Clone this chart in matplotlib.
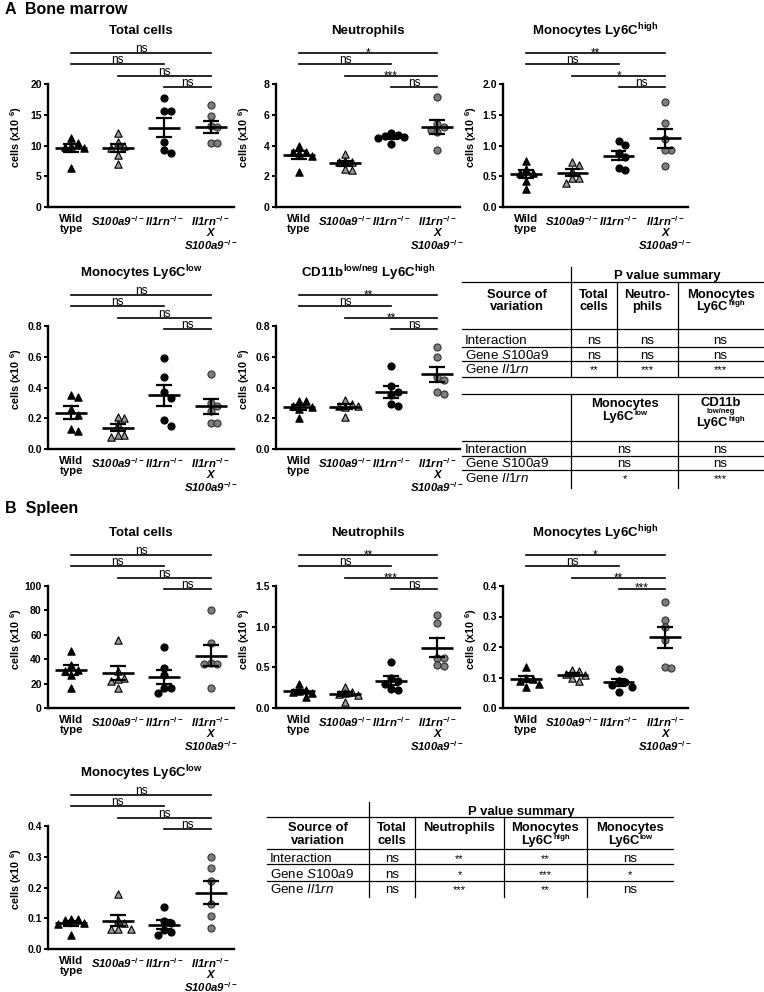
import numpy as np
import matplotlib
matplotlib.use('Agg')
import matplotlib.pyplot as plt

plt.rcParams['font.family'] = ['Liberation Sans', 'DejaVu Sans']
plt.rcParams['mathtext.fontset'] = 'custom'
plt.rcParams['mathtext.rm'] = 'Liberation Sans'
plt.rcParams['mathtext.it'] = 'Liberation Sans:italic'
plt.rcParams['mathtext.bf'] = 'Liberation Sans:bold'

# groups: Wild type, S100a9-/-, Il1rn-/-, Il1rn-/- x S100a9-/-  (cells x10^6)
xlabels = ['Wild\ntype', 'S100a9$^{\\mathbf{-/-}}$', 'Il1rn$^{\\mathbf{-/-}}$',
           'Il1rn$^{\\mathbf{-/-}}$\nX\nS100a9$^{\\mathbf{-/-}}$']

# --- A: bone marrow
bm_total = [[11.2, 10.4, 10.0, 9.8, 9.6, 6.4],
            [12.0, 10.6, 10.0, 9.6, 8.5, 7.0],
            [17.7, 15.6, 15.6, 10.6, 9.2, 8.7],
            [16.6, 14.8, 13.2, 13.0, 10.4, 10.4]]
bm_total_sig = ['ns', 'ns', 'ns', 'ns']
bm_total_ticks = [0, 5, 10, 15, 20]

bm_neut = [[4.0, 3.6, 3.6, 3.5, 3.3, 2.3],
           [3.45, 3.0, 2.9, 2.9, 2.45, 2.4],
           [4.8, 4.7, 4.6, 4.55, 4.5, 4.1],
           [7.15, 5.4, 5.2, 5.0, 4.9, 3.7]]
bm_neut_sig = ['*', 'ns', '***', 'ns']
bm_neut_ticks = [0, 2, 4, 6, 8]

bm_mhigh = [[0.74, 0.62, 0.56, 0.55, 0.42, 0.29],
            [0.73, 0.69, 0.58, 0.47, 0.47, 0.39],
            [1.07, 1.01, 0.88, 0.82, 0.63, 0.60],
            [1.70, 1.36, 1.11, 0.93, 0.93, 0.67]]
bm_mhigh_sig = ['**', 'ns', '*', 'ns']
bm_mhigh_ticks = [0.0, 0.5, 1.0, 1.5, 2.0]

bm_mlow = [[0.35, 0.34, 0.26, 0.22, 0.13, 0.12],
           [0.21, 0.20, 0.16, 0.09, 0.09, 0.08],
           [0.59, 0.47, 0.37, 0.33, 0.19, 0.15],
           [0.49, 0.30, 0.28, 0.25, 0.17, 0.17]]
bm_mlow_sig = ['ns', 'ns', 'ns', 'ns']
bm_mlow_ticks = [0.0, 0.2, 0.4, 0.6, 0.8]

bm_cd11b = [[0.31, 0.31, 0.28, 0.27, 0.26, 0.20],
            [0.32, 0.29, 0.28, 0.28, 0.27, 0.21],
            [0.54, 0.41, 0.37, 0.35, 0.29, 0.28],
            [0.665, 0.60, 0.47, 0.45, 0.37, 0.36]]
bm_cd11b_sig = ['**', 'ns', '**', 'ns']
bm_cd11b_ticks = [0.0, 0.2, 0.4, 0.6, 0.8]

# --- B: spleen
sp_total = [[47, 35, 31, 30, 27, 16],
            [56, 30, 25, 24, 22, 16],
            [50, 33, 27, 16, 16, 12],
            [80, 53, 37, 36, 36, 16]]
sp_total_sig = ['ns', 'ns', 'ns', 'ns']
sp_total_ticks = [0, 20, 40, 60, 80, 100]

sp_neut = [[0.29, 0.22, 0.21, 0.20, 0.18, 0.14],
           [0.26, 0.20, 0.18, 0.17, 0.16, 0.07],
           [0.57, 0.37, 0.33, 0.30, 0.23, 0.22],
           [1.14, 1.04, 0.62, 0.61, 0.53, 0.52]]
sp_neut_sig = ['**', 'ns', '***', 'ns']
sp_neut_ticks = [0.0, 0.5, 1.0, 1.5]

sp_mhigh = [[0.135, 0.10, 0.095, 0.09, 0.08, 0.07],
            [0.125, 0.12, 0.11, 0.108, 0.10, 0.09],
            [0.128, 0.09, 0.085, 0.075, 0.07, 0.054],
            [0.346, 0.289, 0.265, 0.222, 0.135, 0.13]]
sp_mhigh_sig = ['*', 'ns', '**', '***']
sp_mhigh_ticks = [0.0, 0.1, 0.2, 0.3, 0.4]

sp_mlow = [[0.098, 0.097, 0.095, 0.085, 0.08, 0.046],
           [0.18, 0.095, 0.085, 0.065, 0.065, 0.065],
           [0.138, 0.09, 0.085, 0.063, 0.055, 0.046],
           [0.298, 0.262, 0.22, 0.147, 0.106, 0.068]]
sp_mlow_sig = ['ns', 'ns', 'ns', 'ns']
sp_mlow_ticks = [0.0, 0.1, 0.2, 0.3, 0.4]

hi = 'Ly6C$^{\\mathbf{high}}$'
lo = 'Ly6C$^{\\mathbf{low}}$'
panels = [
    (bm_total, bm_total_sig, 'Total cells', bm_total_ticks, 0, 0),
    (bm_neut, bm_neut_sig, 'Neutrophils', bm_neut_ticks, 1, 0),
    (bm_mhigh, bm_mhigh_sig, 'Monocytes ' + hi, bm_mhigh_ticks, 2, 0),
    (bm_mlow, bm_mlow_sig, 'Monocytes ' + lo, bm_mlow_ticks, 0, 1),
    (bm_cd11b, bm_cd11b_sig, 'CD11b$^{\\mathbf{low/neg}}$ ' + hi, bm_cd11b_ticks, 1, 1),
    (sp_total, sp_total_sig, 'Total cells', sp_total_ticks, 0, 2),
    (sp_neut, sp_neut_sig, 'Neutrophils', sp_neut_ticks, 1, 2),
    (sp_mhigh, sp_mhigh_sig, 'Monocytes ' + hi, sp_mhigh_ticks, 2, 2),
    (sp_mlow, sp_mlow_sig, 'Monocytes ' + lo, sp_mlow_ticks, 0, 3),
]

# p value tables; a header cell line may be (base, superscript)
tabA1_head = [['Source of', 'variation'], ['Total', 'cells'], ['Neutro-', 'phils'],
              ['Monocytes', ('Ly6C', 'high')]]
tabA1_rows = ['Interaction', 'Gene $\\mathit{S100a9}$', 'Gene $\\mathit{Il1rn}$']
tabA1_vals = [['ns', 'ns', 'ns'], ['ns', 'ns', 'ns'], ['**', '***', '***']]

tabA2_head = [[], ['Monocytes', ('Ly6C', 'low')], ['CD11b', 'low/neg', ('Ly6C', 'high')]]
tabA2_rows = ['Interaction', 'Gene $\\mathit{S100a9}$', 'Gene $\\mathit{Il1rn}$']
tabA2_vals = [['ns', 'ns'], ['ns', 'ns'], ['*', '***']]

tabB_head = [['Source of', 'variation'], ['Total', 'cells'], ['Neutrophils'],
             ['Monocytes', ('Ly6C', 'high')], ['Monocytes', ('Ly6C', 'low')]]
tabB_rows = ['Interaction', 'Gene $\\mathit{S100a9}$', 'Gene $\\mathit{Il1rn}$']
tabB_vals = [['ns', '**', '**', 'ns'], ['ns', '*', '***', '*'], ['ns', '***', '**', 'ns']]

# ---------------------------------------------------------------
W, H = 764, 992
fig = plt.figure(figsize=(W / 100, H / 100), dpi=100)
ov = fig.add_axes([0, 0, 1, 1])
ov.set_xlim(0, W)
ov.set_ylim(H, 0)
ov.axis('off')
renderer = fig.canvas.get_renderer()

cols = [(48, 234), (276, 460), (503, 688)]
rows = [(84, 207), (326, 449), (586, 708), (826, 949)]

styles = [dict(marker='^', c='black', edgecolors='black', s=28),
          dict(marker='^', c='#9a9a9a', edgecolors='black', s=28),
          dict(marker='o', c='black', edgecolors='black', s=26),
          dict(marker='o', c='#7d7d7d', edgecolors='#333333', s=26)]

pairs = [(0, 3), (0, 2), (1, 3), (2, 3)]
levels = [1.252, 1.163, 1.065, 0.976]


def swarm(vals, ymax, h_px, sp_px, step=6.5, sep=6.5):
    order = np.argsort(vals)[::-1]
    placed = []
    offs = np.zeros(len(vals))
    for i in order:
        y = vals[i] / ymax * h_px
        for k in [0, 1, -1, 2, -2, 3, -3]:
            x = k * step
            if all((x - px) ** 2 + (y - py) ** 2 >= sep ** 2 for px, py in placed):
                break
        placed.append((x, y))
        offs[i] = x / sp_px
    return offs


for data, sig, title, ticks, c, r in panels:
    x0, x1 = cols[c]
    yt, yb = rows[r]
    ax = fig.add_axes([x0 / W, 1 - yb / H, (x1 - x0) / W, (yb - yt) / H])
    ymax = ticks[-1]
    ax.set_xlim(-0.5, 3.5)
    ax.set_ylim(0, ymax)
    sp_px = (x1 - x0) / 4.0
    for g, v in enumerate(data):
        v = np.asarray(v, dtype=float)
        xs = g + swarm(v, ymax, yb - yt, sp_px)
        ax.scatter(xs, v, linewidths=0.8, zorder=3, clip_on=False, **styles[g])
        m = v.mean()
        se = v.std(ddof=1) / np.sqrt(len(v))
        ax.plot([g - 0.34, g + 0.34], [m, m], color='black', lw=1.9, zorder=4,
                solid_capstyle='butt')
        ax.plot([g, g], [m - se, m + se], color='black', lw=1.6, zorder=4)
        for yy in (m - se, m + se):
            ax.plot([g - 0.17, g + 0.17], [yy, yy], color='black', lw=1.6, zorder=4,
                    solid_capstyle='butt')
    trans = ax.get_xaxis_transform()
    for (a, b), lev, s in zip(pairs, levels, sig):
        ax.plot([a, b], [lev, lev], transform=trans, color='black', lw=1.2, clip_on=False)
        dy = -3 if '*' in s else 1
        ax.annotate(s, xy=((a + b) / 2, lev), xycoords=trans, xytext=(0, dy),
                    textcoords='offset pixels', ha='center', va='baseline', fontsize=8.5)
    for sname in ['top', 'right']:
        ax.spines[sname].set_visible(False)
    for sname in ['left', 'bottom']:
        ax.spines[sname].set_linewidth(1.7)
    ax.set_yticks(ticks)
    if all(float(t).is_integer() for t in ticks) and ticks[-1] > 2:
        ax.set_yticklabels(['%d' % t for t in ticks])
    else:
        ax.set_yticklabels(['%.1f' % t for t in ticks])
    ax.tick_params(axis='y', length=3, width=1.4, pad=1.5, labelsize=7.5)
    for lab in ax.get_yticklabels():
        lab.set_fontweight('bold')
    ax.set_xticks([0, 1, 2, 3])
    ax.set_xticklabels(xlabels, fontsize=8.2, fontweight='bold', linespacing=1.0)
    ax.tick_params(axis='x', length=0, pad=5)
    for k, lab in enumerate(ax.get_xticklabels()):
        if k > 0:
            lab.set_fontstyle('italic')
    ov.text((x0 + x1) / 2, yt - 53, title, ha='center', va='center',
            fontsize=9.5, fontweight='bold')
    ov.text(x0 - 32, (yt + yb) / 2 - 8, 'cells (x10 $^{\\mathbf{6}}$)', rotation=90,
            ha='center', va='center', fontsize=7.8, fontweight='bold')

ov.text(5, 9, 'A  Bone marrow', ha='left', va='center', fontsize=11.5, fontweight='bold')
ov.text(5, 508, 'B  Spleen', ha='left', va='center', fontsize=11.5, fontweight='bold')

LW = 0.9
FS = 9.6
HFS = 9.4


def hline(y, xa, xb):
    ov.plot([xa, xb], [y, y], color='black', lw=LW)


def vline(x, ya, yb):
    ov.plot([x, x], [ya, yb], color='black', lw=LW)


def put(x, y, s, size, bold=False, ha='center'):
    # y is the visual middle of capitals; the text sits on its baseline
    wt = 'bold' if bold else 'normal'
    base = y + size * 0.5
    if isinstance(s, tuple):
        t1 = ov.text(0, base, s[0], ha='left', va='baseline', fontsize=size, fontweight=wt)
        t2 = ov.text(0, base - size * 0.45, s[1], ha='left', va='baseline',
                     fontsize=size * 0.6, fontweight=wt)
        w1 = t1.get_window_extent(renderer).width
        w2 = t2.get_window_extent(renderer).width
        left = x - (w1 + w2) / 2 if ha == 'center' else x
        t1.set_x(left)
        t2.set_x(left + w1 + 0.5)
    else:
        ov.text(x, base, s, ha=ha, va='baseline', fontsize=size, fontweight=wt)


def body(xs, row_y, names, vals):
    for yy, name, vv in zip(row_y, names, vals):
        put(xs[0] + 3, yy, name, FS, ha='left')
        for k, s in enumerate(vv):
            put((xs[k + 1] + xs[k + 2]) / 2, yy + (1.5 if '*' in s else 0), s,
                FS if s == 'ns' else 8)


# table A (first)
xa = [462, 571, 617, 678, 763]
vline(xa[1], 267, 377)
for x in xa[2:4]:
    vline(x, 282, 377)
put((xa[1] + xa[4]) / 2, 274, 'P value summary', HFS, bold=True)
for y in [282, 329, 347, 361, 377]:
    hline(y, xa[0], xa[4])
for k, lines in enumerate(tabA1_head):
    for j, s in enumerate(lines):
        put((xa[k] + xa[k + 1]) / 2, 293 + 12 * j, s, HFS, bold=True)
body(xa, [339, 354, 368], tabA1_rows, tabA1_vals)

# table A (second)
xa2 = [462, 571, 678, 763]
vline(xa2[1], 394, 488)
vline(xa2[2], 394, 488)
for y in [394, 441, 456, 470]:
    hline(y, xa2[0], xa2[3])
cx1 = (xa2[1] + xa2[2]) / 2
cx2 = (xa2[2] + xa2[3]) / 2
put(cx1, 402.5, tabA2_head[1][0], HFS, bold=True)
put(cx1, 415, tabA2_head[1][1], HFS, bold=True)
put(cx2, 401, tabA2_head[2][0], HFS, bold=True)
put(cx2, 410.5, tabA2_head[2][1], 5.5, bold=True)
put(cx2, 421, tabA2_head[2][2], HFS, bold=True)
body(xa2, [448, 462, 477], tabA2_rows, tabA2_vals)

# table B
xb = [267, 369, 415, 504, 587, 673]
vline(xb[1], 802, 897)
for x in xb[2:5]:
    vline(x, 817, 897)
put((xb[1] + xb[5]) / 2, 810, 'P value summary', HFS, bold=True)
for y in [817, 849, 864, 881]:
    hline(y, xb[0], xb[5])
for k, lines in enumerate(tabB_head):
    for j, s in enumerate(lines):
        put((xb[k] + xb[k + 1]) / 2, 826 + 13 * j, s, HFS, bold=True)
body(xb, [857, 873, 888], tabB_rows, tabB_vals)

fig.savefig('out.png', dpi=100)
